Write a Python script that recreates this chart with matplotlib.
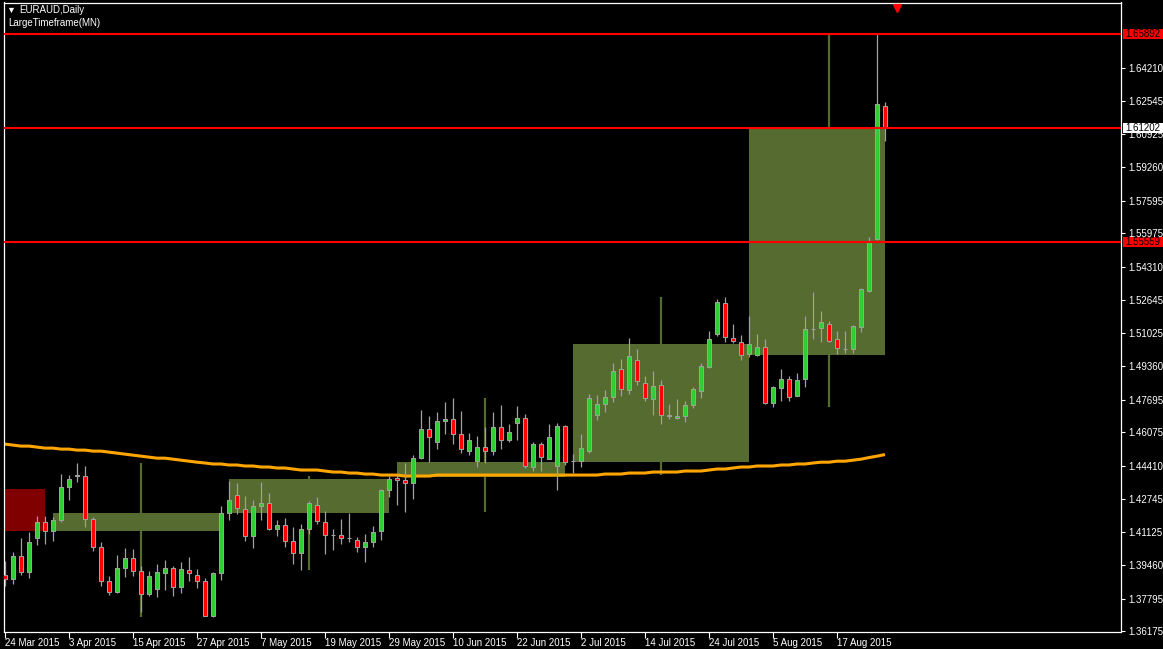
import numpy as np
import pandas as pd
import matplotlib
matplotlib.use('Agg')
import matplotlib.pyplot as plt
from matplotlib.patches import Rectangle
from matplotlib.transforms import blended_transform_factory

FONT = ['Liberation Sans', 'DejaVu Sans']
FS = 7.0

# daily bars, 24 Mar 2015 .. 25 Aug 2015 (business days)
dates = pd.bdate_range('2015-03-24', '2015-08-25')

opens = [1.3899, 1.3878, 1.3992, 1.3913, 1.4082, 1.4161, 1.4117, 1.4171, 1.4335, 1.4392,
         1.4390, 1.4176, 1.4037, 1.3868, 1.3812, 1.3933, 1.3982, 1.3918, 1.3804, 1.3828,
         1.3908, 1.3933, 1.3838, 1.3923, 1.3898, 1.3868, 1.3694, 1.3908, 1.4206, 1.4296,
         1.4226, 1.4092, 1.4241, 1.4256, 1.4127, 1.4147, 1.4067, 1.4005, 1.4127, 1.4246,
         1.4161, 1.4096, 1.4097, 1.4082, 1.4072, 1.4037, 1.4062, 1.4117, 1.4322, 1.4382,
         1.4370, 1.4355, 1.4482, 1.4624, 1.4559, 1.4663, 1.4673, 1.4599, 1.4517, 1.4463,
         1.4534, 1.4514, 1.4634, 1.4569, 1.4653, 1.4678, 1.4433, 1.4549, 1.4477, 1.4438,
         1.4639, 1.4463, 1.4463, 1.4517, 1.4693, 1.4748, 1.4783, 1.4922, 1.4817, 1.4967,
         1.4852, 1.4773, 1.4842, 1.4691, 1.4680, 1.4688, 1.4743, 1.4812, 1.4930, 1.5094,
         1.5250, 1.5076, 1.5056, 1.4996, 1.4991, 1.5031, 1.4751, 1.4827, 1.4872, 1.4788,
         1.4872, 1.5121, 1.5126, 1.5145, 1.5071, 1.5023, 1.5021, 1.5131, 1.5312, 1.5571,
         1.6229]
highs = [1.3966, 1.4014, 1.4083, 1.4112, 1.4193, 1.4193, 1.4186, 1.4401, 1.4395, 1.4456,
         1.4440, 1.4186, 1.4064, 1.3895, 1.3999, 1.4034, 1.4029, 1.3944, 1.3919, 1.3953,
         1.3972, 1.3943, 1.3964, 1.3989, 1.3928, 1.3883, 1.3913, 1.4242, 1.4367, 1.4357,
         1.4292, 1.4272, 1.4362, 1.4307, 1.4173, 1.4183, 1.4138, 1.4151, 1.4267, 1.4287,
         1.4218, 1.4127, 1.4176, 1.4206, 1.4087, 1.4103, 1.4143, 1.4327, 1.4392, 1.4395,
         1.4455, 1.4496, 1.4720, 1.4688, 1.4708, 1.4759, 1.4779, 1.4715, 1.4604, 1.4590,
         1.4635, 1.4710, 1.4744, 1.4650, 1.4739, 1.4700, 1.4559, 1.4559, 1.4650, 1.4653,
         1.4645, 1.4501, 1.4600, 1.4799, 1.4794, 1.4819, 1.4953, 1.4973, 1.5077, 1.5023,
         1.4889, 1.4913, 1.4869, 1.4749, 1.4774, 1.4764, 1.4834, 1.4953, 1.5112, 1.5271,
         1.5281, 1.5147, 1.5092, 1.5187, 1.5097, 1.5072, 1.4837, 1.4923, 1.4889, 1.4903,
         1.5187, 1.5304, 1.5212, 1.5160, 1.5112, 1.5112, 1.5140, 1.5326, 1.5579, 1.65892,
         1.6250]
lows = [1.3845, 1.3855, 1.3899, 1.3881, 1.4045, 1.4050, 1.4065, 1.4164, 1.4269, 1.4358,
        1.4137, 1.4015, 1.3841, 1.3797, 1.3807, 1.3886, 1.3891, 1.3716, 1.3795, 1.3787,
        1.3821, 1.3792, 1.3807, 1.3866, 1.3831, 1.3692, 1.3687, 1.3871, 1.4173, 1.4201,
        1.4065, 1.4030, 1.4169, 1.4123, 1.4090, 1.4035, 1.3951, 1.3921, 1.4100, 1.4151,
        1.4000, 1.4020, 1.4050, 1.4060, 1.4010, 1.3961, 1.4035, 1.4070, 1.4286, 1.4247,
        1.4209, 1.4277, 1.4476, 1.4460, 1.4527, 1.4598, 1.4547, 1.4507, 1.4497, 1.4433,
        1.4453, 1.4497, 1.4527, 1.4557, 1.4567, 1.4428, 1.4413, 1.4413, 1.4473, 1.4322,
        1.4443, 1.4403, 1.4433, 1.4507, 1.4671, 1.4711, 1.4756, 1.4786, 1.4799, 1.4842,
        1.4764, 1.4696, 1.4651, 1.4673, 1.4673, 1.4661, 1.4728, 1.4776, 1.4925, 1.5089,
        1.5059, 1.5051, 1.4965, 1.4981, 1.4986, 1.4746, 1.4731, 1.4761, 1.4763, 1.4786,
        1.4832, 1.5072, 1.5056, 1.5056, 1.4996, 1.5001, 1.5004, 1.5104, 1.5303, 1.5564,
        1.6058]
closes = [1.3878, 1.3992, 1.3913, 1.4062, 1.4161, 1.4117, 1.4171, 1.4335, 1.4375, 1.4394,
          1.4176, 1.4037, 1.3868, 1.3813, 1.3933, 1.3982, 1.3918, 1.3804, 1.3893, 1.3913,
          1.3933, 1.3838, 1.3928, 1.3908, 1.3868, 1.3694, 1.3908, 1.4206, 1.4271, 1.4231,
          1.4092, 1.4241, 1.4256, 1.4127, 1.4147, 1.4067, 1.4005, 1.4127, 1.4256, 1.4166,
          1.4097, 1.4098, 1.4082, 1.4084, 1.4037, 1.4062, 1.4112, 1.4322, 1.4375, 1.4370,
          1.4355, 1.4482, 1.4624, 1.4584, 1.4663, 1.4673, 1.4599, 1.4524, 1.4569, 1.4534,
          1.4514, 1.4634, 1.4569, 1.4609, 1.4678, 1.4440, 1.4549, 1.4487, 1.4584, 1.4639,
          1.4458, 1.4464, 1.4529, 1.4778, 1.4748, 1.4783, 1.4912, 1.4822, 1.4986, 1.4862,
          1.4778, 1.4837, 1.4693, 1.4692, 1.4690, 1.4743, 1.4824, 1.4937, 1.5071, 1.5255,
          1.5081, 1.5061, 1.4991, 1.5046, 1.5031, 1.4751, 1.4832, 1.4872, 1.4783, 1.4867,
          1.5121, 1.5123, 1.5155, 1.5061, 1.5026, 1.5024, 1.5136, 1.5319, 1.5556, 1.6239,
          1.61202]

# moving average drawn in orange
ma = [1.4549, 1.4544, 1.4539, 1.4539, 1.4534, 1.4529, 1.4529, 1.4524, 1.4524, 1.4519,
      1.4519, 1.4514, 1.4514, 1.4509, 1.4504, 1.4499, 1.4494, 1.4489, 1.4484, 1.4479,
      1.4479, 1.4474, 1.4469, 1.4464, 1.4459, 1.4455, 1.4450, 1.4450, 1.4445, 1.4445,
      1.4440, 1.4440, 1.4435, 1.4435, 1.4430, 1.4430, 1.4425, 1.4420, 1.4420, 1.4420,
      1.4415, 1.4410, 1.4410, 1.4405, 1.4405, 1.4400, 1.4400, 1.4395, 1.4395, 1.4395,
      1.4390, 1.4390, 1.4390, 1.4390, 1.4395, 1.4395, 1.4395, 1.4395, 1.4395, 1.4395,
      1.4395, 1.4395, 1.4395, 1.4395, 1.4395, 1.4395, 1.4395, 1.4395, 1.4395, 1.4395,
      1.4395, 1.4395, 1.4395, 1.4395, 1.4395, 1.4400, 1.4400, 1.4400, 1.4405, 1.4405,
      1.4405, 1.4410, 1.4410, 1.4410, 1.4410, 1.4415, 1.4415, 1.4415, 1.4420, 1.4425,
      1.4425, 1.4430, 1.4435, 1.4435, 1.4440, 1.4440, 1.4440, 1.4445, 1.4445, 1.4450,
      1.4450, 1.4455, 1.4459, 1.4459, 1.4464, 1.4464, 1.4469, 1.4474, 1.4482, 1.4489,
      1.4497]

# LargeTimeframe(MN) monthly candles
mn_months = ['2015-03', '2015-04', '2015-05', '2015-06', '2015-07', '2015-08']
mn_open = [1.4327, 1.4118, 1.4208, 1.4383, 1.4462, 1.4993]
mn_high = [1.4460, 1.4456, 1.4392, 1.4779, 1.5281, 1.65892]
mn_low = [1.3940, 1.3687, 1.3921, 1.4209, 1.4395, 1.4731]
mn_close = [1.4118, 1.4208, 1.4377, 1.4461, 1.5048, 1.61202]

# horizontal lines (price, label colour)
levels = [1.65892, 1.61202, 1.55559]
level_faces = ['#FF0000', '#FFFFFF', '#FF0000']

yticks = [1.36175, 1.37795, 1.39460, 1.41125, 1.42745, 1.44410, 1.46075, 1.47695,
          1.49360, 1.51025, 1.52645, 1.54310, 1.55975, 1.57595, 1.59260, 1.60925,
          1.62545, 1.64210]

BULL = '#32CD32'
BEAR = '#FF0000'
EDGE = '#A0A0A0'
OLIVE = '#556B2F'
MAROON = '#800000'

first_day = np.datetime64(dates[0].date(), 'D')


def bar_at(day):
    # index of the last bar at or before the given day
    day = np.datetime64(pd.Timestamp(day).date(), 'D')
    return int(np.busday_count(first_day, day + np.timedelta64(1, 'D'))) - 1


n = len(dates)
idx = np.arange(n)
o = np.array(opens)
h = np.array(highs)
l = np.array(lows)
c = np.array(closes)

fig = plt.figure(figsize=(11.63, 6.49), dpi=100, facecolor='black')
ax = fig.add_axes([4 / 1163, 17.5 / 649, 1117 / 1163, 629 / 649])
ax.set_facecolor('black')

# monthly boxes and wicks
for m, mo, mh, ml, mc in zip(mn_months, mn_open, mn_high, mn_low, mn_close):
    start = pd.Timestamp(m + '-01')
    end = start + pd.offsets.MonthEnd(0)
    left = bar_at(start)
    right = min(bar_at(end), n - 1)
    mid = bar_at(start + pd.Timedelta(days=15))
    col = OLIVE if mc >= mo else MAROON
    ax.bar(left, abs(mc - mo), width=right - left, bottom=min(mo, mc), align='edge',
           color=col, linewidth=0, zorder=1)
    ax.vlines(mid, ml, mh, colors=col, linewidth=1.6, zorder=1.2)

# moving average
ax.plot(idx, ma, color='#FFA500', linewidth=2.2, zorder=2, solid_capstyle='butt')

# candles
cols = [BULL if cc > oo else BEAR for oo, cc in zip(o, c)]
ax.vlines(idx, l, h, colors=EDGE, linewidth=0.9, zorder=3)
ax.bar(idx, np.abs(c - o), bottom=np.minimum(o, c), width=0.5, color=cols,
       edgecolor=EDGE, linewidth=0.75, zorder=4)

# horizontal price lines and their labels on the scale
btf = blended_transform_factory(ax.transAxes, ax.transData)
for lvl, face in zip(levels, level_faces):
    ax.axhline(lvl, color='#FF0000', linewidth=1.5, zorder=5)
    ax.add_patch(Rectangle((1.0015, lvl - 0.0025), 0.0385, 0.005, transform=btf,
                           facecolor=face, edgecolor='none', clip_on=False, zorder=6))
    ax.text(1.0040, lvl, '%.5f' % lvl, transform=btf, color='black', fontsize=FS,
            family=FONT, va='center', ha='left', clip_on=False, zorder=7)

# chart shift marker
ax.plot([n + 0.5], [0.992], transform=blended_transform_factory(ax.transData, ax.transAxes),
        marker='v', color='#FF0000', markersize=6, clip_on=False, zorder=6)

ax.set_xlim(-0.125, 139.5)
ax.set_ylim(1.3617, 1.6745)

xt = list(range(0, n - 6, 8))
ax.set_xticks(xt)
ax.set_xticklabels(['%d %s' % (dates[i].day, dates[i].strftime('%b %Y')) for i in xt],
                   ha='left', family=FONT, fontsize=FS, color='white')
ax.yaxis.tick_right()
ax.set_yticks(yticks)
ax.set_yticklabels(['%.5f' % v for v in yticks], family=FONT, fontsize=FS, color='white')
ax.tick_params(axis='x', colors='white', direction='out', length=4, width=0.8, pad=1)
ax.tick_params(axis='y', colors='white', direction='out', length=3, width=0.8, pad=2)

for sp in ax.spines.values():
    sp.set_color('white')
    sp.set_linewidth(0.9)

fig.text(6 / 1163, 1 - 10 / 649, '\u25bc', color='white', fontsize=6.5, family=FONT,
         va='center', ha='left')
fig.text(19 / 1163, 1 - 10 / 649, 'EURAUD,Daily', color='white', fontsize=FS, family=FONT,
         va='center', ha='left')
fig.text(8 / 1163, 1 - 23 / 649, 'LargeTimeframe(MN)', color='white', fontsize=FS,
         family=FONT, va='center', ha='left')

fig.savefig('out.png', dpi=100, facecolor='black')
plt.close(fig)
